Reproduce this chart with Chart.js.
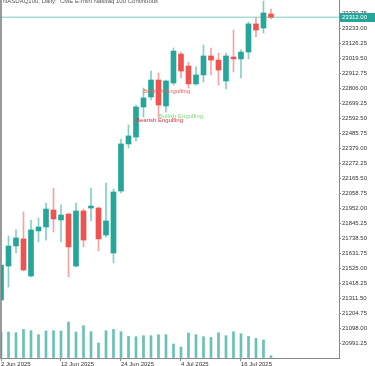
<!DOCTYPE html>
<html>
<head>
<meta charset="utf-8">
<script src="https://cdn.jsdelivr.net/npm/chart.js@4.4.1/dist/chart.umd.min.js"></script>
<style>
  html, body { margin: 0; padding: 0; background: #fff; }
  canvas { display: block; }
</style>
</head>
<body>
<canvas id="grafico" width="375" height="366"></canvas>
<script>
// ------- Dados (barras diárias) -------
const datas = [
  '2 Jun 2025', '3 Jun 2025', '4 Jun 2025', '5 Jun 2025', '6 Jun 2025', '9 Jun 2025', '10 Jun 2025', '11 Jun 2025',
  '12 Jun 2025', '13 Jun 2025', '16 Jun 2025', '17 Jun 2025', '18 Jun 2025', '19 Jun 2025', '20 Jun 2025', '23 Jun 2025',
  '24 Jun 2025', '25 Jun 2025', '26 Jun 2025', '27 Jun 2025', '30 Jun 2025', '1 Jul 2025', '2 Jul 2025', '3 Jul 2025',
  '4 Jul 2025', '7 Jul 2025', '8 Jul 2025', '9 Jul 2025', '10 Jul 2025', '11 Jul 2025', '14 Jul 2025', '15 Jul 2025',
  '16 Jul 2025', '17 Jul 2025', '18 Jul 2025', '21 Jul 2025', '22 Jul 2025'
];
const abertura = [21299, 21541, 21684, 21734, 21470, 21791, 21819, 21940, 21869, 21911, 21541, 21933, 21954, 21954, 21762, 21634,
  22075, 22410, 22459, 22673, 22744, 22865, 22680, 22844, 23050, 22965, 22837, 22901, 23036, 23007, 22858, 23029,
  23015, 23064, 23264, 23235, 23335];
const maxima = [21560, 21755, 21798, 21926, 21869, 21883, 21990, 22096, 21976, 21915, 21990, 21947, 22096, 21961, 22132, 22089,
  22445, 22545, 22687, 22808, 22929, 22915, 22865, 23093, 23064, 22993, 22958, 23114, 23093, 23057, 23057, 23221,
  23079, 23278, 23311, 23427, 23370];
const minima = [21285, 21392, 21634, 21506, 21463, 21712, 21726, 21783, 21712, 21463, 21534, 21677, 21862, 21648, 21748, 21563,
  22061, 22381, 22431, 22602, 22723, 22602, 22637, 22829, 22879, 22808, 22829, 22851, 22901, 22829, 22801, 22922,
  22879, 23015, 23171, 23200, 23299];
const fechamento = [21548, 21684, 21741, 21513, 21798, 21819, 21947, 21876, 21904, 21677, 21933, 21726, 21968, 21734, 21862, 22068,
  22410, 22467, 22673, 22737, 22865, 22687, 22858, 23071, 22929, 22837, 22901, 23036, 23007, 22936, 23036, 23015,
  23064, 23264, 23221, 23342, 23312];
const volume = [260000, 260000, 253000, 286000, 273000, 233000, 270000, 273000, 270000, 360000, 260000, 323000, 263000, 150000, 273000, 286000,
  263000, 216000, 213000, 223000, 223000, 233000, 233000, 140000, 110000, 250000, 233000, 213000, 206000, 253000, 223000, 263000,
  243000, 216000, 196000, 180000, 23000];

// eixos
const precoTicks = [20991.25, 21098.00, 21204.75, 21311.50, 21418.25, 21525.00, 21631.75, 21738.50, 21845.25, 21952.00,
  22058.75, 22165.50, 22272.25, 22379.00, 22485.75, 22592.50, 22699.25, 22806.00, 22912.75, 23019.50, 23126.25,
  23233.00, 23339.75, 23446.50];
const rotuloIdx = [0, 8, 16, 24, 32];

// padrões marcados no gráfico
const padroesTexto = ['Bearish Engulfing', 'Bearish Engulfing', 'Bullish Engulfing'];
const padroesIdx = [18.97, 18.0, 21.03];
const padroesPreco = [22782, 22580, 22604];
const padroesCor = ['#f25a5c', '#d8323f', '#7ddf7d'];

const titulo = 'NASDAQ100, Daily:  CME E-mini Nasdaq 100 Continuous';

// ------- Estilo -------
const ALTA = '#26a69a';
const BAIXA = '#ef5350';
const PAVIO_ALTA = '#86cfc7';
const PAVIO_BAIXA = '#f6a3a2';
const FONTE = { family: '"Liberation Sans", Arial, sans-serif', size: 6 };
const X_MAX = 45.07;

const sobe = abertura.map((a, i) => fechamento[i] >= a);
const ultimo = fechamento[fechamento.length - 1];

// ------- Plugin: título, padrões e rótulo do preço -------
const extras = {
  id: 'extras',
  afterDatasetsDraw(chart) {
    const { ctx, chartArea } = chart;
    const x = chart.scales.x;
    const y = chart.scales.y;
    ctx.save();
    ctx.font = '6px "Liberation Sans", Arial, sans-serif';
    ctx.textAlign = 'left';
    ctx.textBaseline = 'middle';
    padroesTexto.forEach((t, i) => {
      ctx.fillStyle = padroesCor[i];
      ctx.fillText(t, x.getPixelForValue(padroesIdx[i]), y.getPixelForValue(padroesPreco[i]));
    });

    ctx.fillStyle = '#555';
    ctx.textBaseline = 'alphabetic';
    ctx.fillText(titulo, 3, 3);

    const py = Math.round(y.getPixelForValue(ultimo));
    ctx.fillStyle = ALTA;
    ctx.fillRect(chartArea.right + 1, py - 4, 35, 9);
    ctx.fillStyle = '#fff';
    ctx.textBaseline = 'middle';
    ctx.fillText(ultimo.toFixed(2), chartArea.right + 3, py + 0.5);
    ctx.restore();
  }
};

document.addEventListener('DOMContentLoaded', function () {
  const ctx = document.getElementById('grafico').getContext('2d');

  new Chart(ctx, {
    type: 'bar',
    data: {
      datasets: [
        {
          label: 'corpos',
          data: datas.map((d, i) => ({ x: i, y: [abertura[i], fechamento[i]] })),
          backgroundColor: sobe.map(s => s ? ALTA : BAIXA),
          barThickness: 5,
          minBarLength: 1,
          grouped: false,
          yAxisID: 'y',
          order: 1
        },
        {
          label: 'pavios',
          data: datas.map((d, i) => ({ x: i, y: [minima[i], maxima[i]] })),
          backgroundColor: sobe.map(s => s ? PAVIO_ALTA : PAVIO_BAIXA),
          barThickness: 1,
          grouped: false,
          yAxisID: 'y',
          order: 2
        },
        {
          label: 'volume',
          data: datas.map((d, i) => ({ x: i, y: volume[i] })),
          backgroundColor: 'rgba(38, 166, 154, 0.7)',
          barThickness: 2,
          grouped: false,
          yAxisID: 'yv',
          order: 3
        },
        {
          type: 'line',
          label: 'preço atual',
          data: [{ x: 0, y: ultimo }, { x: X_MAX, y: ultimo }],
          borderColor: 'rgba(38, 166, 154, 0.6)',
          borderWidth: 1,
          pointRadius: 0,
          yAxisID: 'y',
          order: 4
        }
      ]
    },
    options: {
      responsive: false,
      animation: false,
      devicePixelRatio: 1,
      layout: { padding: 0 },
      plugins: {
        legend: { display: false },
        tooltip: { enabled: false }
      },
      scales: {
        x: {
          type: 'linear',
          min: 0,
          max: X_MAX,
          offset: false,
          position: 'bottom',
          grid: { drawOnChartArea: false, drawTicks: true, tickLength: 3, color: '#888', offset: false },
          border: { display: true, color: '#888', width: 1 },
          ticks: {
            align: 'start',
            autoSkip: false,
            maxRotation: 0,
            padding: 0,
            color: '#333',
            font: FONTE,
            callback: v => datas[v] ?? ''
          },
          afterBuildTicks: s => { s.ticks = rotuloIdx.map(v => ({ value: v })); },
          afterFit: s => { s.height = 8; s.paddingLeft = 0; s.paddingRight = 0; }
        },
        y: {
          type: 'linear',
          position: 'right',
          min: 20886.6,
          max: 23434.4,
          grid: { drawOnChartArea: false, tickLength: 2, color: '#888' },
          border: { display: true, color: '#888', width: 1 },
          ticks: {
            padding: 1,
            color: '#333',
            font: FONTE,
            callback: v => v.toFixed(2)
          },
          afterBuildTicks: s => { s.ticks = precoTicks.map(v => ({ value: v })); },
          afterFit: s => { s.width = 36; s.paddingTop = 0; s.paddingBottom = 0; }
        },
        yv: {
          type: 'linear',
          position: 'left',
          min: 0,
          max: 3580000,
          grid: { drawOnChartArea: false, drawTicks: false },
          border: { display: true, color: '#999', width: 2 },
          ticks: { display: false },
          afterFit: s => { s.width = 1; s.paddingTop = 0; s.paddingBottom = 0; }
        }
      }
    },
    plugins: [extras]
  });
});
</script>
</body>
</html>
